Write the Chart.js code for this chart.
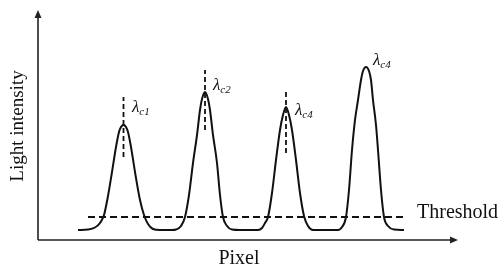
<!DOCTYPE html>
<html>
<head>
<meta charset="utf-8">
<script src="https://cdn.jsdelivr.net/npm/chart.js@4"></script>
<style>
  html, body { margin: 0; padding: 0; background: #fff; }
  #wrap { width: 501px; height: 271px; }
</style>
</head>
<body>
<div id="wrap"><canvas id="peaks"></canvas></div>
<script>
// pixel index along the sensor and the light intensity read there
var pixelPos = [40, 50, 57, 62, 66, 70, 74, 78, 81, 83, 85.5, 88, 90, 93, 97, 102, 106, 110, 115, 122,
  134, 138, 143, 147, 151, 155, 159, 162, 164, 167, 170, 172, 175, 179, 182, 185, 189, 194, 202,
  220, 224, 227, 230, 234, 238, 242, 245, 248, 251, 254, 258, 262, 266, 270, 275, 287,
  300, 304, 308, 311, 314, 317, 320, 323, 325, 328, 331, 333, 335, 338, 340, 343, 346, 350, 356, 366];
var intensity = [10, 10.5, 12.5, 17, 25, 44, 68, 93, 108, 113, 115, 113, 108, 93, 68, 40, 25, 16, 11, 10,
  10, 10.5, 14, 23, 45, 77, 105, 130, 141, 148, 141, 130, 105, 77, 45, 23, 14, 10.5, 10,
  10, 12, 17, 23, 47, 80, 110, 125, 133, 125, 110, 80, 47, 24, 14, 10, 10,
  10, 13, 23, 50, 90, 120, 140, 160, 169, 173, 169, 160, 140, 115, 90, 50, 23, 14, 10.5, 10];

var thresholdLevel = 23;
var thresholdFrom = 50;
var thresholdTo = 367;

// centre wavelength markers
var peakPos = [85.5, 167, 248, 328];
var peakNames = ['c1', 'c2', 'c4', 'c4'];
var markerLow = [83, 110, 87];
var markerHigh = [143, 170, 148];

var curve = pixelPos.map(function (p, i) { return { x: p, y: intensity[i] }; });

var datasets = [{
  data: curve,
  borderColor: '#111',
  borderWidth: 2,
  pointRadius: 0,
  cubicInterpolationMode: 'monotone'
}, {
  data: [{ x: thresholdFrom, y: thresholdLevel }, { x: thresholdTo, y: thresholdLevel }],
  borderColor: '#111',
  borderWidth: 1.8,
  borderDash: [7, 4],
  pointRadius: 0
}];

markerLow.forEach(function (lo, i) {
  datasets.push({
    data: [{ x: peakPos[i], y: lo }, { x: peakPos[i], y: markerHigh[i] }],
    borderColor: '#111',
    borderWidth: 1.8,
    borderDash: [5, 3],
    pointRadius: 0
  });
});

// where each lambda label sits, in chart units
var labelAt = [[94, 128], [175, 150], [257, 125], [335, 175]];

var serif = '"Liberation Serif", "Times New Roman", serif';

var decor = {
  id: 'decor',
  afterDraw: function (chart) {
    var ctx = chart.ctx, a = chart.chartArea;
    var xs = chart.scales.x, ys = chart.scales.y;
    ctx.save();
    // axes with arrow heads
    ctx.strokeStyle = '#222';
    ctx.fillStyle = '#222';
    ctx.lineWidth = 1.6;
    ctx.beginPath();
    ctx.moveTo(a.left, a.bottom);
    ctx.lineTo(a.left, a.top + 4);
    ctx.moveTo(a.left, a.bottom);
    ctx.lineTo(a.right + 14, a.bottom);
    ctx.stroke();
    ctx.beginPath();
    ctx.moveTo(a.left, a.top - 2);
    ctx.lineTo(a.left - 3.5, a.top + 6);
    ctx.lineTo(a.left + 3.5, a.top + 6);
    ctx.closePath();
    ctx.fill();
    ctx.beginPath();
    ctx.moveTo(a.right + 18, a.bottom);
    ctx.lineTo(a.right + 10, a.bottom - 3.5);
    ctx.lineTo(a.right + 10, a.bottom + 3.5);
    ctx.closePath();
    ctx.fill();

    // threshold label
    ctx.fillStyle = '#111';
    ctx.font = '20px ' + serif;
    ctx.textBaseline = 'alphabetic';
    ctx.fillText('Threshold', xs.getPixelForValue(thresholdTo) + 12, ys.getPixelForValue(thresholdLevel) + 1);

    // lambda labels
    peakNames.forEach(function (name, i) {
      var px = xs.getPixelForValue(labelAt[i][0]);
      var py = ys.getPixelForValue(labelAt[i][1]);
      ctx.font = 'italic 17px ' + serif;
      ctx.fillText('\u03bb', px, py);
      var w = ctx.measureText('\u03bb').width;
      ctx.font = 'italic 11px ' + serif;
      ctx.fillText(name, px + w, py + 3);
    });
    ctx.restore();
  }
};

new Chart(document.getElementById('peaks'), {
  type: 'line',
  data: { datasets: datasets },
  plugins: [decor],
  options: {
    responsive: true,
    maintainAspectRatio: false,
    animation: false,
    layout: { padding: { top: 12, right: 61, left: 0, bottom: 0 } },
    plugins: { legend: { display: false }, tooltip: { enabled: false } },
    scales: {
      x: {
        type: 'linear',
        min: 0,
        max: 402,
        grid: { display: false, drawTicks: false },
        border: { display: false },
        ticks: { display: false },
        title: {
          display: true,
          text: 'Pixel',
          color: '#111',
          font: { family: serif, size: 20 },
          padding: { top: 7, bottom: 0 }
        }
      },
      y: {
        min: 0,
        max: 228,
        grid: { display: false, drawTicks: false },
        border: { display: false },
        ticks: { display: false },
        title: {
          display: true,
          text: 'Light intensity',
          color: '#111',
          font: { family: serif, size: 19 },
          padding: { top: 7, bottom: 8.2 }
        }
      }
    }
  }
});
</script>
</body>
</html>
